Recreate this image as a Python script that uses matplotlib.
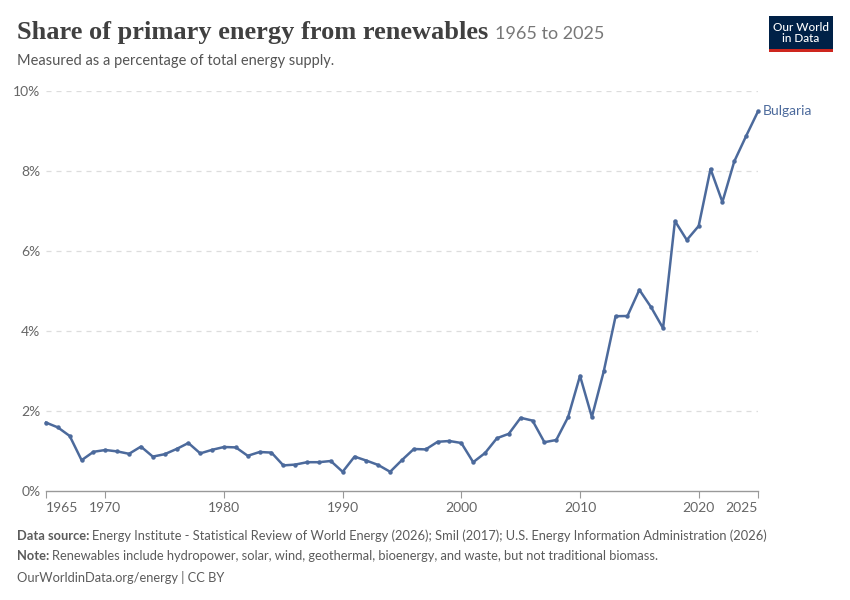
import matplotlib
matplotlib.use("Agg")
import matplotlib.pyplot as plt
from matplotlib.patches import Rectangle

years = list(range(1965, 2026))
share = [1.71, 1.59, 1.375, 0.77, 0.98, 1.025, 0.99, 0.93, 1.11, 0.86,
         0.92, 1.05, 1.20, 0.94, 1.03, 1.10, 1.09, 0.88, 0.975, 0.96,
         0.64, 0.66, 0.72, 0.72, 0.75, 0.48, 0.86, 0.76, 0.65, 0.48,
         0.775, 1.05, 1.04, 1.23, 1.25, 1.20, 0.72, 0.95, 1.32, 1.43,
         1.83, 1.76, 1.22, 1.275, 1.85, 2.88, 1.85, 2.99, 4.37, 4.375,
         5.03, 4.59, 4.07, 6.75, 6.275, 6.625, 8.05, 7.225, 8.24, 8.875,
         9.49]
yticks = [0, 2, 4, 6, 8, 10]
xticks = [1965, 1970, 1980, 1990, 2000, 2010, 2020, 2025]
series_name = "Bulgaria"

W, H = 850, 600
fig = plt.figure(figsize=(W / 100, H / 100), dpi=100)
fig.patch.set_facecolor("white")
plt.rcParams['font.family'] = ['Lato', 'DejaVu Sans']

line_color = "#4c6a9c"
ax = fig.add_axes([46 / W, (H - 491) / H, (758 - 46) / W, 400 / H])
ax.plot(years, share, color=line_color, lw=1.8, marker='o', ms=3.2,
        markeredgewidth=0, zorder=3, clip_on=False)
ax.set_xlim(1965, 2025)
ax.set_ylim(0, 10)

for s in ['top', 'right', 'left']:
    ax.spines[s].set_visible(False)
ax.spines['bottom'].set_color('#999999')
ax.spines['bottom'].set_linewidth(1)

ax.set_yticks(yticks)
ax.set_yticklabels([f"{v}%" for v in yticks], color='#666666', fontsize=10)
ax.tick_params(axis='y', length=0, pad=4)
for v in yticks[1:]:
    ax.axhline(v, color='#dddddd', lw=0.9, ls=(0, (4, 4)), zorder=1)

ax.set_xticks(xticks)
ax.set_xticklabels([str(x) for x in xticks], color='#666666', fontsize=10)
ax.tick_params(axis='x', length=5, color='#999999', pad=3)
labs = ax.get_xticklabels()
labs[0].set_horizontalalignment('left')
labs[-1].set_horizontalalignment('right')

ax.text(years[-1] + 0.4, share[-1], series_name, color=line_color,
        fontsize=10, va='center', ha='left', clip_on=False)

# Title & subtitle
fig.text(17 / W, 1 - 33 / H, "Share of primary energy from renewables",
         family=['Liberation Serif', 'DejaVu Serif'], weight='bold',
         fontsize=19, color='#404040', va='center', ha='left')
fig.text(495 / W, 1 - 34 / H, "1965 to 2025", fontsize=13, color='#777777',
         va='center', ha='left')
fig.text(17 / W, 1 - 61 / H, "Measured as a percentage of total energy supply.",
         fontsize=10.5, color='#555555', va='center', ha='left')

# Footer
renderer = fig.canvas.get_renderer()
FS = 9.3


def two_part(y_px, bold, rest):
    t = fig.text(17 / W, 1 - y_px / H, bold, fontsize=FS, weight='bold',
                 color='#5b5b5b', va='center', ha='left')
    bb = t.get_window_extent(renderer=renderer)
    fig.text((bb.x1 + 3) / W, 1 - y_px / H, rest, fontsize=FS,
             color='#5b5b5b', va='center', ha='left')


two_part(536, "Data source:",
         "Energy Institute - Statistical Review of World Energy (2026); Smil (2017); U.S. Energy Information Administration (2026)")
two_part(556, "Note:",
         "Renewables include hydropower, solar, wind, geothermal, bioenergy, and waste, but not traditional biomass.")
fig.text(17 / W, 1 - 577 / H, "OurWorldinData.org/energy | CC BY",
         fontsize=FS, color='#5b5b5b', va='center', ha='left')

# Logo
fig.patches.append(Rectangle((769 / W, 1 - 52 / H), 64 / W, 36 / H,
                             transform=fig.transFigure, facecolor='#002147',
                             edgecolor='none'))
fig.patches.append(Rectangle((769 / W, 1 - 52 / H), 64 / W, 3 / H,
                             transform=fig.transFigure, facecolor='#ce261e',
                             edgecolor='none'))
fig.text(801 / W, 1 - 33 / H, "Our World\nin Data", fontsize=8.5,
         color='white', ha='center', va='center', linespacing=1.0,
         weight='medium')

fig.savefig("out.png", dpi=100, facecolor='white')
